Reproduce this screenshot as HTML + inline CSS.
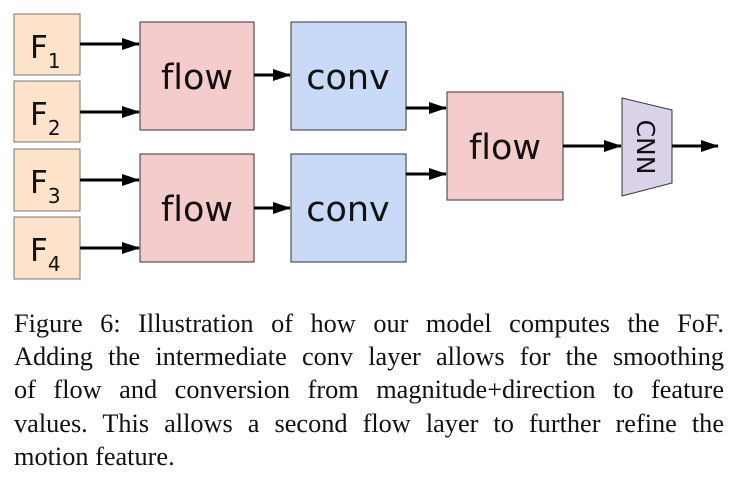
<!DOCTYPE html>
<html><head><style>
body{margin:0;background:#fff;width:742px;height:499px;overflow:hidden}
.cap{position:absolute;left:14px;top:307px;width:710px;font-family:"Liberation Serif",serif;font-size:26.3px;line-height:33.2px;text-align:justify;color:#111;white-space:nowrap}
.cap span{display:block;text-align-last:justify}
svg text{font-variant-ligatures:none}
</style></head><body>
<svg width="742" height="300" style="position:absolute;left:0;top:0" font-family="DejaVu Sans,sans-serif">
<defs><marker id="a" markerWidth="18" markerHeight="12" refX="17" refY="6" orient="auto" markerUnits="userSpaceOnUse"><path d="M0,0L18,6L0,12z" fill="#000"/></marker></defs>
<g fill="#fce3c9" stroke="#777" stroke-width="1">
<rect x="14" y="14" width="66" height="61"/><rect x="14" y="81" width="66" height="61"/>
<rect x="14" y="149" width="66" height="62"/><rect x="14" y="217" width="66" height="62"/>
</g>
<g font-size="31" fill="#111">
<text x="30" y="58">F<tspan font-size="20" dy="10">1</tspan></text>
<text x="30" y="125">F<tspan font-size="20" dy="10">2</tspan></text>
<text x="30" y="193">F<tspan font-size="20" dy="10">3</tspan></text>
<text x="30" y="261">F<tspan font-size="20" dy="10">4</tspan></text>
</g>
<g stroke="#333" stroke-width="1">
<rect x="140" y="22" width="114" height="108" fill="#f4cccc"/>
<rect x="140" y="154" width="114" height="108" fill="#f4cccc"/>
<rect x="291" y="22" width="115" height="108" fill="#c9daf8"/>
<rect x="291" y="154" width="115" height="108" fill="#c9daf8"/>
<rect x="447" y="92" width="116" height="108" fill="#f4cccc"/>
<polygon points="622,98 672,110 672,183 622,196" fill="#d9d2e9"/>
</g>
<g font-size="35" fill="#111" text-anchor="middle">
<text x="197" y="89">flow</text><text x="197" y="221">flow</text>
<text x="348" y="89">conv</text><text x="348" y="221">conv</text>
<text x="505" y="159">flow</text>
</g>
<text transform="translate(637,147) rotate(90)" font-size="25" text-anchor="middle" fill="#111">CNN</text>
<g stroke="#000" stroke-width="3" marker-end="url(#a)">
<line x1="80" y1="44" x2="139" y2="44"/><line x1="80" y1="112" x2="139" y2="112"/>
<line x1="80" y1="180" x2="139" y2="180"/><line x1="80" y1="248" x2="139" y2="248"/>
<line x1="254" y1="75" x2="290" y2="75"/><line x1="254" y1="208" x2="290" y2="208"/>
<line x1="406" y1="108" x2="446" y2="108"/><line x1="406" y1="174" x2="446" y2="174"/>
<line x1="563" y1="146" x2="621" y2="146"/><line x1="672" y1="146" x2="718" y2="146"/>
</g>
</svg>
<div class="cap">
<span>Figure 6: Illustration of how our model computes the FoF.</span>
<span>Adding the intermediate conv layer allows for the smoothing</span>
<span>of flow and conversion from magnitude+direction to feature</span>
<span>values. This allows a second flow layer to further refine the</span>
<div>motion feature.</div>
</div>
</body></html>
